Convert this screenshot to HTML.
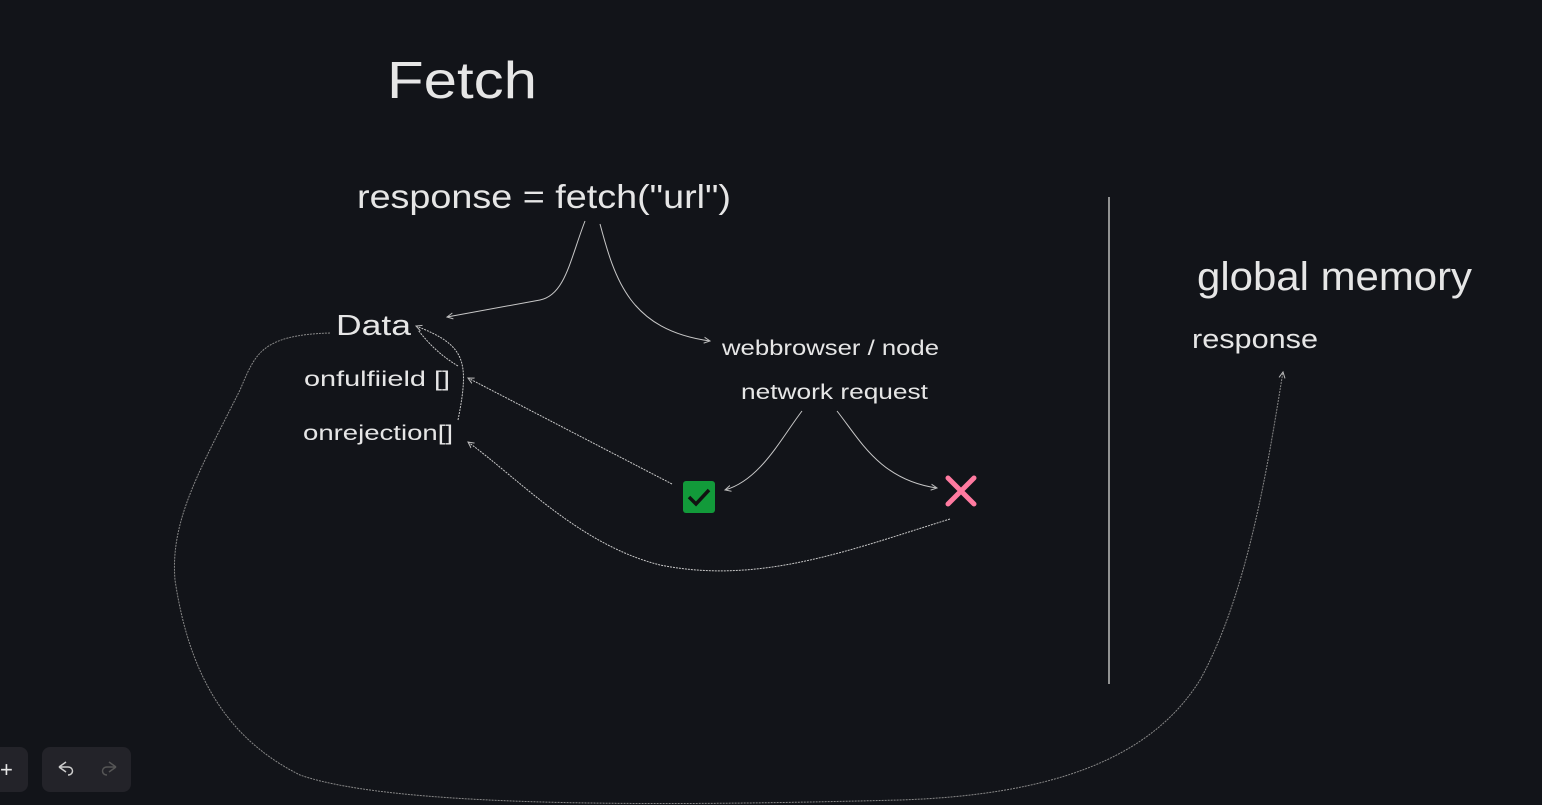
<!DOCTYPE html>
<html><head><meta charset="utf-8"><style>
html,body{margin:0;padding:0;background:#121419;width:1542px;height:805px;overflow:hidden}
svg{display:block}
text{font-family:"Liberation Sans",sans-serif;fill:#e6e6e6}
</style></head><body>
<svg width="1542" height="805" viewBox="0 0 1542 805">
<defs><marker id="a" markerWidth="8" markerHeight="8" refX="6" refY="4" orient="auto"><path d="M0,1 L6,4 L0,7" fill="none" stroke="#bbb" stroke-width="1"/></marker></defs>
<text x="387" y="98" font-size="52" textLength="150" lengthAdjust="spacingAndGlyphs">Fetch</text>
<text x="357" y="208" font-size="33" textLength="374" lengthAdjust="spacingAndGlyphs">response = fetch("url")</text>
<text x="1197" y="290" font-size="40" textLength="275" lengthAdjust="spacingAndGlyphs">global memory</text>
<text x="1192" y="348" font-size="27" textLength="126" lengthAdjust="spacingAndGlyphs">response</text>
<text x="336" y="335" font-size="29" textLength="75" lengthAdjust="spacingAndGlyphs">Data</text>
<text x="304" y="386" font-size="21" textLength="146" lengthAdjust="spacingAndGlyphs">onfulfiield []</text>
<text x="303" y="440" font-size="21" textLength="150" lengthAdjust="spacingAndGlyphs">onrejection[]</text>
<text x="722" y="355" font-size="21" textLength="217" lengthAdjust="spacingAndGlyphs">webbrowser / node</text>
<text x="741" y="399" font-size="21" textLength="187" lengthAdjust="spacingAndGlyphs">network request</text>
<g fill="none" stroke="#c8c8c8" stroke-width="1">
<path d="M585,221 C570,260 565,295 540,300 L447,317" marker-end="url(#a)"/>
<path d="M600,224 C615,280 630,330 710,341" marker-end="url(#a)"/>
<path d="M802,411 C780,440 760,480 725,490" marker-end="url(#a)"/>
<path d="M837,411 C860,440 880,480 937,488" marker-end="url(#a)"/>
<path d="M672,484 L468,378" stroke-dasharray="2 1" marker-end="url(#a)"/>
<path d="M950,519 C850,550 760,585 660,565 C580,545 520,480 468,442" stroke-dasharray="2 1" marker-end="url(#a)"/>
<path d="M458,420 C470,360 465,345 416,326" stroke-dasharray="2 1" marker-end="url(#a)"/>
<path d="M458,366 C440,355 430,345 418,330" stroke-dasharray="2 1"/>
<path d="M330,333 C260,335 255,355 240,390 C200,470 170,520 175,580 C190,680 230,740 300,775 C400,810 700,805 900,800 C1050,795 1150,760 1200,680 C1250,590 1270,450 1283,372" stroke="#888" stroke-dasharray="2 1" marker-end="url(#a)"/>
<path d="M1109,197 L1109,684" stroke="#bbb" stroke-width="1.5"/>
</g>
<rect x="683" y="481" width="32" height="32" rx="3" fill="#129a3a"/>
<path d="M689,497 L696,504 L709,490" stroke="#111" stroke-width="3.5" fill="none"/>
<path d="M948,478 L974,504 M974,478 L948,504" stroke="#ff7aa0" stroke-width="5" stroke-linecap="round"/>
<rect x="-10" y="747" width="38" height="45" rx="8" fill="#232329"/>
<text x="0" y="777" font-size="22" fill="#ddd">+</text>
<rect x="42" y="747" width="89" height="45" rx="8" fill="#232329"/>
<path d="M59,767 L66,762 M59,767 L66,772 M59,767 L68,767 C74,767 74,775 68,775" stroke="#ccc" stroke-width="1.5" fill="none"/>
<path d="M116,767 L109,762 M116,767 L109,772 M116,767 L107,767 C101,767 101,775 107,775" stroke="#555" stroke-width="1.5" fill="none"/>
</svg>
</body></html>
